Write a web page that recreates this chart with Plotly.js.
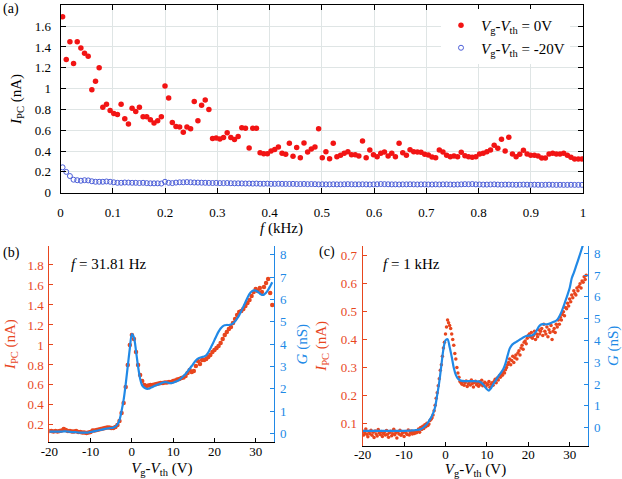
<!DOCTYPE html>
<html><head><meta charset="utf-8">
<script src="https://cdn.plot.ly/plotly-3.0.1.min.js"></script>
<style>html,body{margin:0;padding:0;background:#fff}#chart{width:622px;height:479px}</style>
</head><body><div id="chart"></div>
<script>
// ---------- Panel (a): photocurrent vs modulation frequency ----------
const fStart = 0.004;   // kHz, first frequency
const fStep = 0.007;    // kHz, frequency step
const ipc0V = [
1.69,1.28,1.45,1.24,1.45,1.39,1.34,1.31,0.99,1.07,
1.20,0.82,0.85,0.79,0.76,0.75,0.85,0.71,0.66,0.81,
0.78,0.82,0.73,0.73,0.70,0.67,0.69,0.73,1.025,0.91,
0.675,0.635,0.63,0.58,0.63,0.615,0.875,0.69,0.84,0.89,
0.80,0.52,0.525,0.515,0.53,0.577,0.53,0.51,0.54,0.625,
0.62,0.43,0.62,0.62,0.384,0.375,0.375,0.40,0.415,0.44,
0.38,0.37,0.475,0.35,0.435,0.336,0.477,0.39,0.42,0.44,
0.615,0.336,0.394,0.327,0.474,0.346,0.36,0.378,0.394,0.365,
0.365,0.352,0.497,0.336,0.41,0.365,0.346,0.378,0.39,0.352,
0.378,0.346,0.474,0.384,0.36,0.413,0.394,0.39,0.388,0.37,
0.362,0.343,0.336,0.41,0.39,0.36,0.346,0.352,0.346,0.388,
0.355,0.346,0.34,0.346,0.372,0.378,0.394,0.41,0.455,0.426,
0.513,0.40,0.532,0.372,0.346,0.37,0.407,0.372,0.36,0.36,
0.352,0.333,0.333,0.372,0.378,0.372,0.372,0.378,0.36,0.34,
0.324,0.324,0.324];
const ipcM20V = [
0.244,0.200,0.160,0.125,0.120,0.115,0.120,0.118,0.110,0.105,
0.105,0.105,0.108,0.105,0.100,0.095,0.095,0.098,0.097,0.095,
0.095,0.093,0.095,0.092,0.090,0.090,0.090,0.088,0.105,0.095,
0.092,0.097,0.100,0.100,0.102,0.100,0.098,0.097,0.096,0.095,
0.094,0.093,0.094,0.092,0.092,0.093,0.091,0.090,0.090,0.089,
0.088,0.088,0.087,0.088,0.086,0.086,0.087,0.085,0.085,0.086,
0.085,0.084,0.084,0.085,0.083,0.083,0.084,0.082,0.083,0.082,
0.080,0.081,0.080,0.080,0.081,0.080,0.080,0.081,0.082,0.081,
0.080,0.080,0.081,0.080,0.079,0.080,0.081,0.083,0.082,0.081,
0.080,0.080,0.079,0.080,0.080,0.081,0.080,0.079,0.080,0.080,
0.079,0.079,0.080,0.079,0.080,0.080,0.079,0.078,0.079,0.080,
0.082,0.081,0.083,0.080,0.079,0.078,0.078,0.079,0.080,0.078,
0.077,0.078,0.078,0.077,0.076,0.077,0.078,0.077,0.076,0.077,
0.076,0.075,0.076,0.077,0.076,0.075,0.076,0.075,0.075,0.076,
0.075,0.075,0.075];
const legendNames = ['<i>V</i><sub>g</sub>-<i>V</i><sub>th</sub> = 0V', '<i>V</i><sub>g</sub>-<i>V</i><sub>th</sub> = -20V'];
const freqTitle = '<i>f</i> (kHz)';

// ---------- Panels (b), (c): vs gate voltage ----------
const vStart = -20;
const vStepLine = 0.5;
const vStepDotsC = 0.25;
const ipcB = [
0.14,0.14,0.135,0.14,0.135,0.14,0.145,0.16,0.15,0.14,
0.14,0.135,0.135,0.14,0.13,0.13,0.125,0.125,0.12,0.125,
0.13,0.145,0.145,0.15,0.155,0.16,0.165,0.17,0.175,0.175,
0.17,0.17,0.18,0.2,0.24,0.32,0.42,0.58,0.8,1.0,
1.1,1.06,0.93,0.8,0.7,0.64,0.6,0.59,0.595,0.6,
0.6,0.605,0.61,0.615,0.62,0.62,0.625,0.625,0.63,0.63,
0.64,0.645,0.655,0.66,0.67,0.675,0.69,0.72,0.75,0.73,
0.74,0.79,0.84,0.81,0.85,0.85,0.86,0.88,0.9,0.93,
0.95,0.97,0.99,1.02,1.06,1.1,1.13,1.16,1.18,1.22,
1.26,1.3,1.33,1.34,1.36,1.39,1.42,1.45,1.49,1.53,
1.56,1.54,1.57,1.53,1.58,1.62,1.66,1.52,1.4];
const gB = [
0.08,0.08,0.08,0.08,0.08,0.08,0.08,0.09,0.09,0.08,
0.07,0.06,0.06,0.05,0.04,0.03,0.03,0.03,0.03,0.04,
0.06,0.08,0.1,0.12,0.14,0.16,0.18,0.2,0.22,0.23,
0.24,0.26,0.3,0.4,0.6,1.0,1.5,2.2,3.0,3.8,
4.45,4.3,3.7,3.0,2.45,2.15,2.05,2.0,2.0,2.04,
2.08,2.13,2.17,2.2,2.24,2.28,2.3,2.29,2.26,2.25,
2.27,2.31,2.35,2.4,2.48,2.57,2.66,2.78,2.9,3.02,
3.15,3.27,3.35,3.39,3.42,3.45,3.5,3.62,3.8,3.98,
4.18,4.38,4.56,4.7,4.8,4.85,4.86,4.86,4.88,4.93,
5.02,5.15,5.3,5.48,5.68,5.88,6.08,6.25,6.36,6.41,
6.4,6.35,6.27,6.21,6.22,6.3,6.43,6.6,6.78];
const ipcC = [
0.072,0.058,0.066,0.080,0.061,0.052,0.070,0.063,0.075,0.057,
0.068,0.049,0.073,0.062,0.055,0.078,0.066,0.060,0.071,0.053,
0.064,0.069,0.058,0.074,0.061,0.050,0.067,0.072,0.056,0.063,
0.079,0.059,0.066,0.048,0.070,0.062,0.075,0.057,0.064,0.068,
0.053,0.071,0.065,0.060,0.076,0.058,0.067,0.073,0.062,0.069,
0.064,0.071,0.066,
0.072,0.080,0.068,0.085,0.078,0.090,0.082,0.095,0.088,0.100,0.092,0.098,
0.11,0.115,0.12,0.13,0.145,0.165,0.19,0.21,
0.235,0.26,0.29,0.31,0.34,0.37,0.39,0.42,
0.445,0.47,0.46,0.45,0.44,0.42,0.4,0.38,
0.35,0.33,0.3,0.28,0.265,0.25,0.245,0.24,
0.250,0.236,0.245,0.252,0.232,0.241,0.248,0.237,0.255,0.243,
0.230,0.246,0.251,0.238,0.244,0.233,0.249,0.240,0.254,0.235,
0.243,0.247,0.231,0.242,0.238,0.250,0.229,0.240,
0.245,0.236,0.25,0.258,0.245,0.262,0.255,0.27,0.265,0.278,0.272,0.285,
0.28,0.292,0.3,0.31,0.318,0.33,0.31,0.325,0.34,0.318,0.335,0.345,
0.33,0.352,0.36,0.345,0.37,0.38,0.365,0.39,0.395,0.385,0.405,0.415,
0.42,0.41,0.425,0.405,0.415,0.43,0.4,0.42,0.41,0.435,0.42,0.43,
0.44,0.415,0.455,0.43,0.42,0.445,0.41,0.435,0.425,0.45,0.4,0.43,
0.44,0.425,0.455,0.445,0.47,0.455,0.48,0.47,0.49,0.5,0.485,0.515,
0.51,0.53,0.52,0.545,0.535,0.56,0.55,0.575,0.565,0.56,0.585,0.575,
0.59,0.6,0.585,0.61,0.605,0.625,0.615,0.63];
const gC = [
-0.15,-0.15,-0.15,-0.15,-0.15,-0.15,-0.15,-0.15,-0.15,-0.15,
-0.15,-0.15,-0.15,-0.15,-0.15,-0.15,-0.15,-0.15,-0.15,-0.15,
-0.15,-0.15,-0.14,-0.14,-0.13,-0.12,-0.11,-0.1,-0.07,-0.02,
0.06,0.16,0.3,0.45,0.65,0.95,1.5,2.1,2.85,3.6,
4.0,4.05,3.7,3.25,2.75,2.42,2.25,2.17,2.14,2.13,
2.13,2.13,2.13,2.13,2.13,2.12,2.12,2.08,2.0,1.88,
1.76,1.7,1.8,1.98,2.12,2.28,2.42,2.55,2.7,2.95,
3.3,3.62,3.78,3.86,3.92,3.98,4.04,4.1,4.16,4.2,
4.22,4.22,4.24,4.3,4.45,4.62,4.72,4.75,4.74,4.74,
4.76,4.8,4.84,4.88,4.95,5.1,5.3,5.55,5.82,6.1,
6.4,6.85,7.1,7.38,7.66,7.95,8.25,8.55,8.85];
const vTickVals = [-20,-10,0,10,20,30];
const vTickText = ['-20','-10','0','10','20','30'];
const fText = ['<i>f</i> = 31.81 Hz', '<i>f</i> = 1 kHz'];
const panelLabels = ['(a)','(b)','(c)'];

// ---------- styling ----------
const W = 622, H = 479;
const FONT = 'Liberation Serif, Times New Roman, Times, serif';
const RED_A = '#f21414', BLUE_A = '#4d5fd8';
const RED = '#e8461e', BLUE = '#2189e6';
const px = x => x / W, py = y => 1 - y / H;
const tf = (c) => ({family: FONT, size: 13, color: c});
const ttl = (t, c, s) => ({text: t, font: {family: FONT, size: 15, color: c}, standoff: s});

const traces = [
  {type:'scatter', mode:'markers', x0:fStart, dx:fStep, y:ipc0V, name:legendNames[0],
   marker:{color:RED_A, size:5.5}, xaxis:'x', yaxis:'y'},
  {type:'scatter', mode:'markers', x0:fStart, dx:fStep, y:ipcM20V, name:legendNames[1],
   marker:{symbol:'circle-open', color:BLUE_A, size:5, line:{width:1, color:BLUE_A}}, xaxis:'x', yaxis:'y'},
  {type:'scatter', mode:'markers', x0:vStart, dx:vStepLine, y:ipcB, showlegend:false,
   marker:{color:RED, size:4.5}, xaxis:'x2', yaxis:'y2'},
  {type:'scatter', mode:'lines', x0:vStart, dx:vStepLine, y:gB, showlegend:false,
   line:{color:BLUE, width:2.2, shape:'spline', smoothing:0.8}, xaxis:'x2', yaxis:'y3'},
  {type:'scatter', mode:'markers', x0:vStart, dx:vStepDotsC, y:ipcC, showlegend:false,
   marker:{color:RED, size:3.5}, xaxis:'x3', yaxis:'y4'},
  {type:'scatter', mode:'lines', x0:vStart, dx:vStepLine, y:gC, showlegend:false,
   line:{color:BLUE, width:2.2, shape:'spline', smoothing:0.8}, xaxis:'x3', yaxis:'y5'}
];

const baseAx = {showline:true, linewidth:1, zeroline:false, ticks:'inside', ticklen:4, tickwidth:1};

const layout = {
  width: W, height: H,
  margin: {l:0, r:0, t:0, b:0},
  paper_bgcolor: '#fff', plot_bgcolor: '#fff',
  font: {family: FONT, size: 13, color: '#000'},
  showlegend: true,
  legend: {x: px(441), y: py(9), xanchor:'left', yanchor:'top', bgcolor:'#fff',
           borderwidth:0, font:{family:FONT, size:15, color:'#000'}, itemwidth:30, tracegroupgap:0},
  xaxis: Object.assign({}, baseAx, {domain:[px(60.5), px(583)], anchor:'y', range:[0,1], dtick:0.1, tick0:0,
    linecolor:'#000', tickcolor:'#000', mirror:'ticks', ticklen:5, showgrid:true, gridcolor:'#dfe5e5',
    tickfont: tf('#000'), ticklabelstandoff:8}),
  yaxis: Object.assign({}, baseAx, {domain:[py(192.7), py(5.3)], anchor:'x', range:[0,1.8], dtick:0.2, tick0:0,
    linecolor:'#000', tickcolor:'#000', mirror:'ticks', ticklen:5, showgrid:true, gridcolor:'#dfe5e5',
    tickfont: tf('#000'), ticklabelstandoff:6, title: ttl('<i>I</i><sub>PC</sub> (nA)', '#000', 9)}),

  xaxis2: Object.assign({}, baseAx, {domain:[px(49.3), px(274.3)], anchor:'y2', range:[-20,34.5],
    tickvals:vTickVals, ticktext:vTickText, linecolor:'#000', tickcolor:'#000', showgrid:false,
    tickfont: tf('#000'), ticklabelstandoff:-3, title: ttl('<i>V</i><sub>g</sub>-<i>V</i><sub>th</sub> (V)', '#000', 4)}),
  yaxis2: Object.assign({}, baseAx, {domain:[py(442.3), py(246)], anchor:'x2', range:[0.026,1.99], dtick:0.2, tick0:0,
    linecolor:RED, tickcolor:RED, showgrid:false, tickfont: tf(RED), ticklabelstandoff:2,
    title: ttl('<i>I</i><sub>PC</sub> (nA)', RED, 8)}),
  yaxis3: Object.assign({}, baseAx, {overlaying:'y2', side:'right', anchor:'x2', range:[-0.4,8.4], dtick:1, tick0:0,
    linecolor:BLUE, tickcolor:BLUE, showgrid:false, tickfont: tf(BLUE), ticklabelstandoff:2,
    title: ttl('<i>G</i> (nS)', BLUE, 10)}),

  xaxis3: Object.assign({}, baseAx, {domain:[px(362.7), px(588.3)], anchor:'y4', range:[-20,34.5],
    tickvals:vTickVals, ticktext:vTickText, linecolor:'#000', tickcolor:'#000', showgrid:false,
    tickfont: tf('#000'), ticklabelstandoff:-3, title: ttl('<i>V</i><sub>g</sub>-<i>V</i><sub>th</sub> (V)', '#000', 4)}),
  yaxis4: Object.assign({}, baseAx, {domain:[py(445.7), py(246)], anchor:'x3', range:[0.02,0.735], dtick:0.1, tick0:0,
    linecolor:RED, tickcolor:RED, showgrid:false, tickfont: tf(RED), ticklabelstandoff:2,
    title: ttl('<i>I</i><sub>PC</sub> (nA)', RED, 10)}),
  yaxis5: Object.assign({}, baseAx, {overlaying:'y4', side:'right', anchor:'x3', range:[-0.83,8.33], dtick:1, tick0:0,
    linecolor:BLUE, tickcolor:BLUE, showgrid:false, tickfont: tf(BLUE), ticklabelstandoff:2,
    title: ttl('<i>G</i> (nS)', BLUE, 12)}),

  annotations: [
    {text:freqTitle, xref:'paper', yref:'paper', x:px(281), y:py(229), xanchor:'center', yanchor:'middle', showarrow:false, font:{family:FONT, size:15}},
    {text:panelLabels[0], xref:'paper', yref:'paper', x:px(1), y:py(9), xanchor:'left', yanchor:'middle', showarrow:false, font:{family:FONT, size:14}},
    {text:panelLabels[1], xref:'paper', yref:'paper', x:px(1), y:py(253), xanchor:'left', yanchor:'middle', showarrow:false, font:{family:FONT, size:14}},
    {text:panelLabels[2], xref:'paper', yref:'paper', x:px(317), y:py(252), xanchor:'left', yanchor:'middle', showarrow:false, font:{family:FONT, size:14}},
    {text:fText[0], xref:'paper', yref:'paper', x:px(69), y:py(264), xanchor:'left', yanchor:'middle', showarrow:false, font:{family:FONT, size:15}},
    {text:fText[1], xref:'paper', yref:'paper', x:px(381), y:py(264), xanchor:'left', yanchor:'middle', showarrow:false, font:{family:FONT, size:15}}
  ]
};

Plotly.newPlot('chart', traces, layout, {staticPlot:true, displayModeBar:false});
</script>
</body></html>
